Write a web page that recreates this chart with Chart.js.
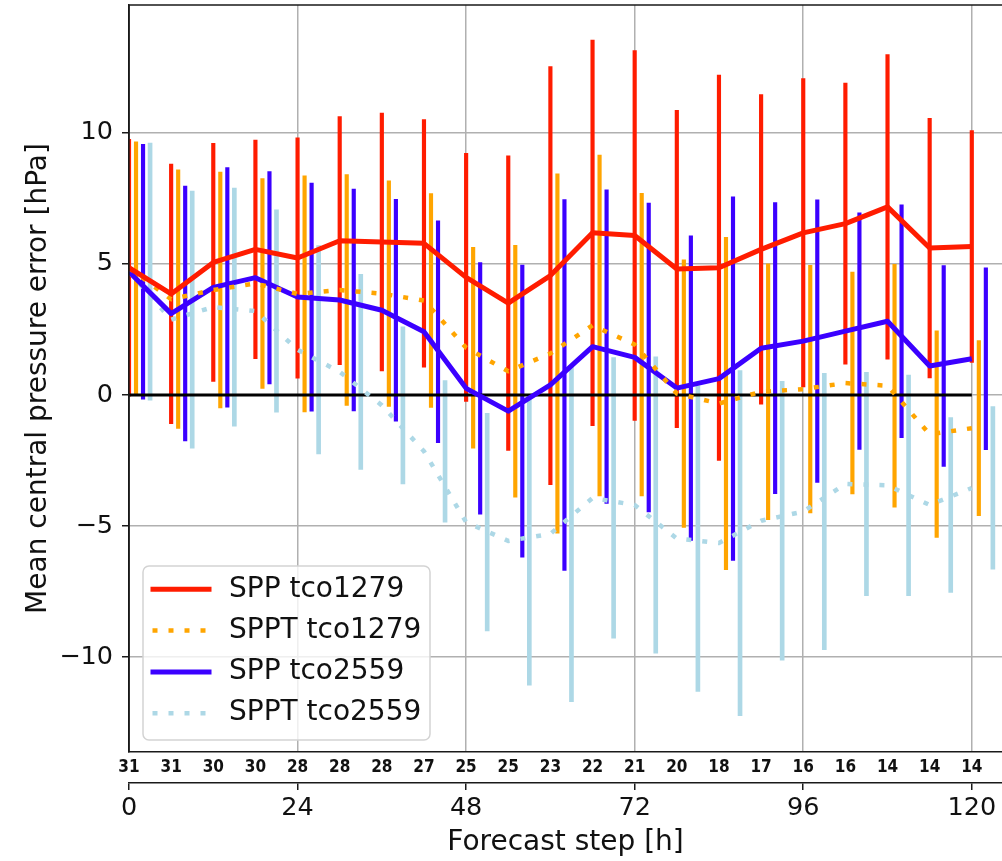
<!DOCTYPE html>
<html>
<head>
<meta charset="utf-8">
<title>Mean central pressure error</title>
<script src="https://cdn.jsdelivr.net/npm/chart.js@4.4.1/dist/chart.umd.min.js"></script>
<style>
  html, body { margin: 0; padding: 0; background: #fff; }
  #wrap { position: relative; width: 1002px; height: 861px; }
</style>
</head>
<body>
<div id="wrap"><canvas id="chart"></canvas></div>
<script>
// forecast steps [h] and number of cases verified at each step
const steps = [0, 6, 12, 18, 24, 30, 36, 42, 48, 54, 60, 66, 72, 78, 84, 90, 96, 102, 108, 114, 120];
const caseCounts = [31, 31, 30, 30, 28, 28, 28, 27, 25, 25, 23, 22, 21, 20, 18, 17, 16, 16, 14, 14, 14];

// mean error and spread (+/- one std) per experiment
const sppT1279Mean = [4.85, 3.85, 5.05, 5.55, 5.22, 5.88, 5.83, 5.78, 4.48, 3.5, 4.55, 6.18, 6.08, 4.8, 4.85, 5.55, 6.18, 6.53, 7.17, 5.6, 5.66];
const sppT1279Spread = [4.9, 4.95, 4.54, 4.17, 4.58, 4.73, 4.92, 4.72, 4.73, 5.62, 7.97, 7.35, 7.05, 6.05, 7.35, 5.9, 5.88, 5.36, 5.81, 4.95, 4.42];

const spptT1279Mean = [4.85, 3.65, 4.0, 4.25, 3.85, 4.0, 3.86, 3.6, 1.8, 0.9, 1.58, 2.65, 1.92, 0.05, -0.33, 0.12, 0.22, 0.45, 0.35, -1.5, -1.27];
const spptT1279Spread = [4.8, 4.93, 4.5, 4.0, 4.5, 4.4, 4.3, 4.08, 3.83, 4.8, 6.85, 6.5, 5.77, 5.1, 6.34, 4.88, 4.72, 4.23, 4.63, 3.94, 3.34];

const sppT2559Mean = [4.7, 3.1, 4.1, 4.47, 3.73, 3.62, 3.23, 2.41, 0.25, -0.62, 0.38, 1.84, 1.43, 0.26, 0.62, 1.78, 2.05, 2.43, 2.81, 1.1, 1.38];
const sppT2559Spread = [4.86, 4.86, 4.57, 4.05, 4.35, 4.23, 4.23, 4.23, 4.8, 5.57, 7.07, 5.98, 5.89, 5.81, 6.93, 5.55, 5.39, 4.51, 4.44, 3.83, 3.47];

const spptT2559Mean = [4.7, 2.87, 3.35, 3.2, 1.72, 0.88, -0.4, -2.15, -4.85, -5.57, -5.3, -3.93, -4.2, -5.48, -5.65, -4.8, -4.45, -3.4, -3.45, -4.2, -3.55];
const spptT2559Spread = [4.9, 4.9, 4.54, 3.86, 3.97, 3.72, 3.0, 2.7, 4.15, 5.5, 6.4, 5.35, 5.65, 5.83, 6.58, 5.32, 5.27, 4.26, 4.21, 3.33, 3.1];

const xTicks = [0, 24, 48, 72, 96, 120];
const yTicks = [-10, -5, 0, 5, 10];

const series = [
  { label: 'SPP tco1279', color: '#ff1c00', dotted: false, mean: sppT1279Mean, spread: sppT1279Spread, shift: 0, barWidth: 3.5 },
  { label: 'SPPT tco1279', color: '#ffa500', dotted: true, mean: spptT1279Mean, spread: spptT1279Spread, shift: 1, barWidth: 3.5 },
  { label: 'SPP tco2559', color: '#3b00ff', dotted: false, mean: sppT2559Mean, spread: sppT2559Spread, shift: 2, barWidth: 3.5 },
  { label: 'SPPT tco2559', color: '#add8e6', dotted: true, mean: spptT2559Mean, spread: spptT2559Spread, shift: 3, barWidth: 4 }
];

Chart.defaults.font.family = "'DejaVu Sans', sans-serif";
const countFont = "'DejaVu Sans Condensed', 'DejaVu Sans', sans-serif";
const spine = '#1a1a1a';
const gridGray = '#b0b0b0';

// mean lines go first so they are painted above everything else
const meanLines = series.map(s => ({
  type: 'line',
  label: s.label,
  inLegend: true,
  data: steps.map((t, i) => ({ x: t, y: s.mean[i] })),
  borderColor: s.color,
  borderWidth: s.dotted ? 4.5 : 5,
  borderDash: s.dotted ? [5, 11] : [],
  borderCapStyle: 'butt',
  borderJoinStyle: 'round',
  pointRadius: 0,
  tension: 0,
  fill: false
}));

const zeroLine = {
  type: 'line',
  label: 'zero',
  data: [steps[0], steps[steps.length - 1]].map(t => ({ x: t, y: 0 })),
  borderColor: '#000',
  borderWidth: 3,
  pointRadius: 0,
  fill: false
};

// error bars as floating bars, shifted a little per experiment
const spreadBars = series.map(s => ({
  type: 'bar',
  label: s.label + ' spread',
  data: steps.map((t, i) => ({ x: t + s.shift, y: [s.mean[i] - s.spread[i], s.mean[i] + s.spread[i]] })),
  backgroundColor: s.color,
  borderWidth: 0,
  barThickness: s.barWidth,
  grouped: false
}));

// top and left spines, redrawn over the data
const frame = {
  id: 'frame',
  afterDatasetsDraw(chart) {
    const { ctx, chartArea: a } = chart;
    ctx.save();
    ctx.strokeStyle = spine;
    ctx.lineWidth = 1.5;
    ctx.beginPath();
    ctx.moveTo(a.left, a.bottom);
    ctx.lineTo(a.left, a.top);
    ctx.lineTo(a.right, a.top);
    ctx.stroke();
    ctx.restore();
  }
};

// legend box in the lower left corner of the plot
const insetLegend = {
  id: 'insetLegend',
  afterDraw(chart) {
    const { ctx, chartArea: a } = chart;
    const w = 287, h = 174;
    const x0 = a.left + 14, y0 = a.bottom - 12 - h;
    ctx.save();
    ctx.beginPath();
    ctx.roundRect(x0, y0, w, h, 6);
    ctx.fillStyle = 'rgba(255,255,255,0.8)';
    ctx.fill();
    ctx.strokeStyle = '#d3d3d3';
    ctx.lineWidth = 1.5;
    ctx.stroke();
    const items = chart.data.datasets.filter(d => d.inLegend);
    items.forEach((d, i) => {
      const y = y0 + 23.3 + i * 41.3;
      ctx.beginPath();
      ctx.setLineDash(d.borderDash);
      ctx.lineDashOffset = d.borderDash.length ? -2 : 0;
      ctx.strokeStyle = d.borderColor;
      ctx.lineWidth = d.borderWidth;
      ctx.lineCap = 'butt';
      ctx.moveTo(x0 + 7.5, y);
      ctx.lineTo(x0 + 68.5, y);
      ctx.stroke();
      ctx.setLineDash([]);
      ctx.fillStyle = '#111';
      ctx.font = "28px 'DejaVu Sans', sans-serif";
      ctx.textBaseline = 'middle';
      ctx.textAlign = 'left';
      ctx.fillText(d.label, x0 + 86, y);
    });
    ctx.restore();
  }
};

new Chart(document.getElementById('chart'), {
  type: 'line',
  data: { datasets: [...meanLines, zeroLine, ...spreadBars] },
  plugins: [frame, insetLegend],
  options: {
    responsive: true,
    maintainAspectRatio: false,
    animation: false,
    devicePixelRatio: 1,
    layout: { padding: { top: 5, left: 0, right: 0, bottom: 0 } },
    plugins: { legend: { display: false }, tooltip: { enabled: false } },
    scales: {
      x: {
        type: 'linear', position: 'bottom', weight: 0,
        min: 0, max: 124.3, offset: false,
        afterBuildTicks: s => { s.ticks = steps.map(v => ({ value: v })); },
        ticks: {
          autoSkip: false, maxRotation: 0, padding: 5, color: '#111',
          font: { family: countFont, size: 17, weight: 'bold' },
          callback: v => caseCounts[steps.indexOf(v)]
        },
        grid: { display: false, drawTicks: false, offset: false },
        border: { display: true, color: spine, width: 1.5 },
        afterFit: s => { s.height = 31; s.paddingLeft = 0; s.paddingRight = 0; }
      },
      x2: {
        type: 'linear', position: 'bottom', weight: 1,
        min: 0, max: 124.3, offset: false,
        afterBuildTicks: s => { s.ticks = xTicks.map(v => ({ value: v })); },
        ticks: { autoSkip: false, maxRotation: 0, padding: 3, color: '#111', font: { size: 25.5 } },
        grid: {
          color: gridGray, lineWidth: 1.5, drawOnChartArea: true, drawTicks: true,
          tickLength: 7, tickColor: spine, tickWidth: 1.5, offset: false
        },
        border: { display: true, color: spine, width: 1.5 },
        title: { display: true, text: 'Forecast step [h]', color: '#111', font: { size: 28 }, padding: { top: 0, bottom: 1.5 } },
        afterFit: s => { s.height = 78; s.paddingLeft = 0; s.paddingRight = 0; }
      },
      y: {
        type: 'linear', position: 'left',
        min: -13.62, max: 14.87,
        afterBuildTicks: s => { s.ticks = yTicks.map(v => ({ value: v })); },
        ticks: {
          padding: 9, color: '#111', font: { size: 25.5 },
          callback: v => (v < 0 ? '\u2212' + Math.abs(v) : String(v))
        },
        grid: { color: gridGray, lineWidth: 1.5, tickLength: 7, tickColor: spine, tickWidth: 1.5 },
        border: { display: true, color: spine, width: 1.5 },
        title: {
          display: true, text: 'Mean central pressure error [hPa]', color: '#111',
          font: { size: 28 }, padding: { top: 22, bottom: 0 }
        },
        afterFit: s => { s.width = 129; s.paddingTop = 0; s.paddingBottom = 0; }
      }
    }
  }
});
</script>
</body>
</html>
